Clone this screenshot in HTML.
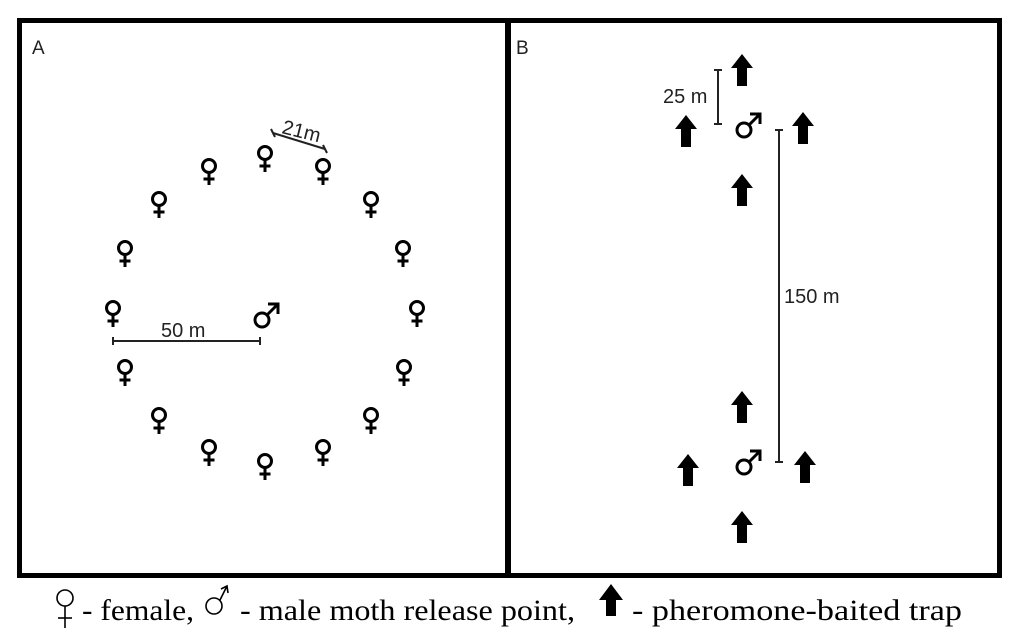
<!DOCTYPE html>
<html><head><style>body{margin:0;background:#fff}svg{display:block}</style></head><body>
<svg width="1024" height="638" viewBox="0 0 1024 638" xmlns="http://www.w3.org/2000/svg">
<defs>
<g id="f"><circle cx="0" cy="-5" r="6.5" fill="none" stroke="#000" stroke-width="3"/><line x1="0" y1="1" x2="0" y2="14" stroke="#000" stroke-width="3"/><line x1="-5.5" y1="8" x2="5.5" y2="8" stroke="#000" stroke-width="3"/></g>
<g id="m"><circle cx="-4" cy="5" r="7" fill="none" stroke="#000" stroke-width="3"/><line x1="1" y1="0" x2="11" y2="-10" stroke="#000" stroke-width="3"/><polyline points="2,-11 12,-11 12,-1" fill="none" stroke="#000" stroke-width="3"/></g>
<polygon id="a" points="0,-16 11,-2 5,-2 5,16 -5,16 -5,-2 -11,-2" fill="#000"/>
</defs>
<rect x="19.5" y="20.5" width="488" height="555" fill="none" stroke="#000" stroke-width="5"/>
<rect x="508.5" y="20.5" width="491" height="555" fill="none" stroke="#000" stroke-width="5"/>
<g font-family="Liberation Sans, sans-serif" font-size="19" fill="#222">
<text x="32" y="54">A</text><text x="516" y="54">B</text>
</g>
<g>
<use href="#f" x="265" y="158"/><use href="#f" x="323" y="171"/><use href="#f" x="209" y="171"/>
<use href="#f" x="371" y="204"/><use href="#f" x="159" y="204"/><use href="#f" x="403" y="253"/>
<use href="#f" x="125" y="253"/><use href="#f" x="417" y="313"/><use href="#f" x="113" y="313"/>
<use href="#f" x="404" y="372"/><use href="#f" x="125" y="372"/><use href="#f" x="371" y="420"/>
<use href="#f" x="159" y="420"/><use href="#f" x="323" y="452"/><use href="#f" x="209" y="452"/>
<use href="#f" x="265" y="466"/>
<use href="#m" x="266" y="315"/><use href="#m" x="748" y="125"/><use href="#m" x="748" y="462"/>
<use href="#a" x="742" y="70"/><use href="#a" x="686" y="131"/><use href="#a" x="803" y="128"/><use href="#a" x="742" y="190"/>
<use href="#a" x="742" y="407"/><use href="#a" x="688" y="470"/><use href="#a" x="805" y="467"/><use href="#a" x="742" y="527"/>
</g>
<g stroke="#222" stroke-width="2" fill="none">
<line x1="273" y1="133" x2="325" y2="149"/><line x1="271" y1="129" x2="275" y2="137"/><line x1="323" y1="145" x2="327" y2="153"/>
<line x1="113" y1="341" x2="260" y2="341"/><line x1="113" y1="337" x2="113" y2="345"/><line x1="260" y1="337" x2="260" y2="345"/>
<line x1="718" y1="70" x2="718" y2="124"/><line x1="714" y1="70" x2="722" y2="70"/><line x1="714" y1="124" x2="722" y2="124"/>
<line x1="779" y1="130" x2="779" y2="462"/><line x1="775" y1="130" x2="783" y2="130"/><line x1="775" y1="462" x2="783" y2="462"/>
</g>
<g font-family="Liberation Sans, sans-serif" font-size="20" fill="#222">
<text x="281" y="133" transform="rotate(14 281 133)">21m</text>
<text x="161" y="337">50 m</text>
<text x="663" y="103">25 m</text>
<text x="784" y="303">150 m</text>
</g>
<g stroke="#000" stroke-width="1.6" fill="none">
<circle cx="65" cy="598" r="8"/><line x1="65" y1="606" x2="65" y2="628"/><line x1="58" y1="618" x2="72" y2="618"/>
<circle cx="214" cy="606" r="8"/><line x1="220" y1="600" x2="227" y2="586"/><polyline points="221,589 227,586 228,593"/>
</g>
<g font-family="Liberation Serif, DejaVu Serif, serif" fill="#000" font-size="30">
<text x="82" y="620" textLength="112" lengthAdjust="spacingAndGlyphs">- female,</text>
<text x="240" y="620" textLength="335" lengthAdjust="spacingAndGlyphs">- male moth release point,</text>
<text x="632" y="620" textLength="330" lengthAdjust="spacingAndGlyphs">- pheromone-baited trap</text>
</g>
<polygon points="611,584 623,600 616,600 616,616 606,616 606,600 599,600" fill="#000"/>
</svg>
</body></html>
